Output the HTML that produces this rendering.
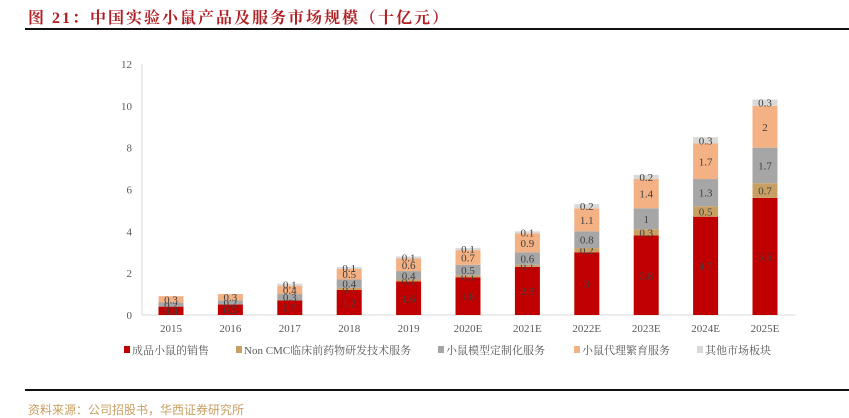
<!DOCTYPE html>
<html><head><meta charset="utf-8"><style>
body{margin:0;width:849px;height:407px;overflow:hidden;background:#fff;position:relative;font-family:"Liberation Serif","Noto Serif CJK SC",serif}
.title{position:absolute;left:28px;top:5px;font-size:16px;font-weight:bold;color:#b01f24;letter-spacing:2px;font-family:"Liberation Serif","Noto Serif CJK SC",serif}
.rule{position:absolute;left:25px;right:0;height:2px;background:#111}
.src{position:absolute;left:28px;top:401px;font-size:12px;color:#c9a063;font-family:"Liberation Sans","Noto Sans CJK SC",sans-serif}
</style></head><body>
<div class="title">图 21：中国实验小鼠产品及服务市场规模（十亿元）</div>
<div class="rule" style="top:28px"></div>
<svg id="chart" width="849" height="407" style="position:absolute;left:0;top:0"></svg>
<div class="rule" style="top:389px;height:2px"></div>
<div class="src">资料来源：公司招股书，华西证券研究所</div>
<script>
const categories=["2015","2016","2017","2018","2019","2020E","2021E","2022E","2023E","2024E","2025E"];
const sales=[0.4,0.5,0.7,1.2,1.6,1.8,2.3,3,3.8,4.7,5.6];
const nonCmc=[0,0,0,0.1,0.1,0.1,0.1,0.2,0.3,0.5,0.7];
const model=[0.2,0.2,0.3,0.4,0.4,0.5,0.6,0.8,1,1.3,1.7];
const breeding=[0.3,0.3,0.4,0.5,0.6,0.7,0.9,1.1,1.4,1.7,2];
const other=[0,0,0.1,0.1,0.1,0.1,0.1,0.2,0.2,0.3,0.3];
const yTicks=[0,2,4,6,8,10,12];
const seriesNames=["成品小鼠的销售","Non CMC临床前药物研发技术服务","小鼠模型定制化服务","小鼠代理繁育服务","其他市场板块"];
const NS="http://www.w3.org/2000/svg";
const svg=document.getElementById('chart');
const x0=142,step=59.4,bw=25,yBase=315,yTop=64,yMax=12;
const y=v=>yBase-(v/yMax)*(yBase-yTop);
const xc=i=>x0+29+i*step;
function mk(t,a){const e=document.createElementNS(NS,t);for(const k in a)e.setAttribute(k,a[k]);svg.appendChild(e);return e;}
const axis=mk('line',{x1:x0,y1:yTop,x2:x0,y2:yBase,stroke:'#d9d9d9'});


const xaxis=mk('line',{x1:x0,y1:yBase,x2:x0+step*categories.length,y2:yBase,stroke:'#d9d9d9'});


yTicks.forEach(t=>{const e=mk('text',{x:x0-10,y:y(t)+4,'text-anchor':'end','font-size':11,fill:'#595959'});e.textContent=t;

});
const series=[sales,nonCmc,model,breeding,other];
const colors=['#c00000','#c9a063','#a6a6a6','#f4b183','#d9d9d9'];
categories.forEach((c,i)=>{
 let acc=0;
 series.forEach((s,k)=>{const v=s[i];if(!v)return;
  const r=mk('rect',{x:xc(i)-bw/2,y:y(acc+v),width:bw,height:y(acc)-y(acc+v),fill:colors[k]});
  
  
  const t=mk('text',{x:xc(i),y:(y(acc)+y(acc+v))/2+4,'text-anchor':'middle','font-size':11,fill:'#404040'});
  t.textContent=v;
  
  
  acc+=v;});
 const l=mk('text',{x:xc(i),y:yBase+17,'text-anchor':'middle','font-size':11,fill:'#595959'});l.textContent=c;
 
 
});
const lx=[124,236,438,574,697];
seriesNames.forEach((n,k)=>{
 const r=mk('rect',{x:lx[k],y:346,width:6,height:7,fill:colors[k]});
 
 
 const t=mk('text',{x:lx[k]+8,y:354,'font-size':11,fill:'#595959'});t.textContent=n;
 
 
});
</script>
</body></html>
